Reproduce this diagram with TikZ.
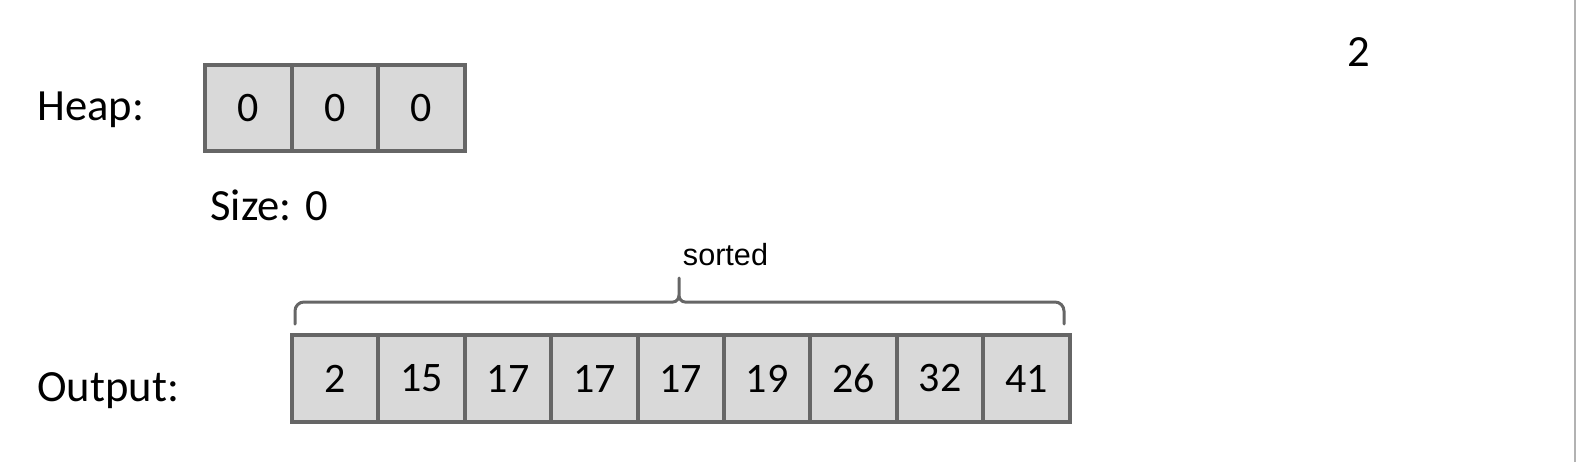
\documentclass[tikz,border=0pt]{standalone}
\usepackage{fontspec}
\setmainfont{Carlito}
\newfontfamily\arialfont{Liberation Sans}
\usetikzlibrary{positioning,calc}
\definecolor{cellline}{HTML}{666666}
\definecolor{cellfill}{HTML}{D9D9D9}

\begin{document}
\begin{tikzpicture}[x=0.5pt,y=0.5pt,node distance=0pt,
  every node/.style={inner sep=0pt},
  lbl/.style={font=\fontsize{22.3}{27}\selectfont},
  cell/.style={draw=cellline,fill=cellfill,line width=2pt,outer sep=0pt,minimum height=43.3pt,font=\fontsize{21}{25}\selectfont},
  hcell/.style={cell,minimum width=43.3pt},
  ocell/.style={cell,minimum width=43.2pt},
  brc/.style={draw=cellline,line width=1.5pt,line cap=round,line join=round}]
  \useasboundingbox (0,0) rectangle (1576,462);
  \draw[gray!60,line width=1pt] (1575,0) -- (1575,462);

  % labels
  \node[lbl,anchor=base west] (heaplbl) at (37,342) {Heap:};
  \node[lbl,anchor=base west] (sizelbl) at (210,242) {Size: 0};
  \node[lbl,anchor=base west] (outlbl) at (37,61) {Output:};
  \node[lbl,anchor=base] (popped) at (1359,396) {2};

  % heap array
  \node[hcell] (h1) at (248.3,354) {0};
  \node[hcell,right=of h1] (h2) {0};
  \node[hcell,right=of h2] (h3) {0};

  % output array
  \node[ocell] (o1) at (335.2,83.5) {2};
  \foreach \v [count=\i from 2] in {15,17,17,17,19,26,32,41} {
    \pgfmathtruncatemacro\prev{\i-1}
    \node[ocell,right=of o\prev] (o\i) {\v};
  }

  % brace over the output
  \draw[brc] (295,138) -- (295,151) to[out=90,in=180] (304,160) -- (673,160)
    to[out=0,in=-90] (679,167) -- (679,184) -- (679,167)
    to[out=-90,in=180] (685,160) -- (1055,160)
    to[out=0,in=90] (1064,151) -- (1064,138);
  \node[font=\arialfont\fontsize{15.3}{18}\selectfont,anchor=base] (sortlbl) at (725.5,197) {sorted};
\end{tikzpicture}
\end{document}
